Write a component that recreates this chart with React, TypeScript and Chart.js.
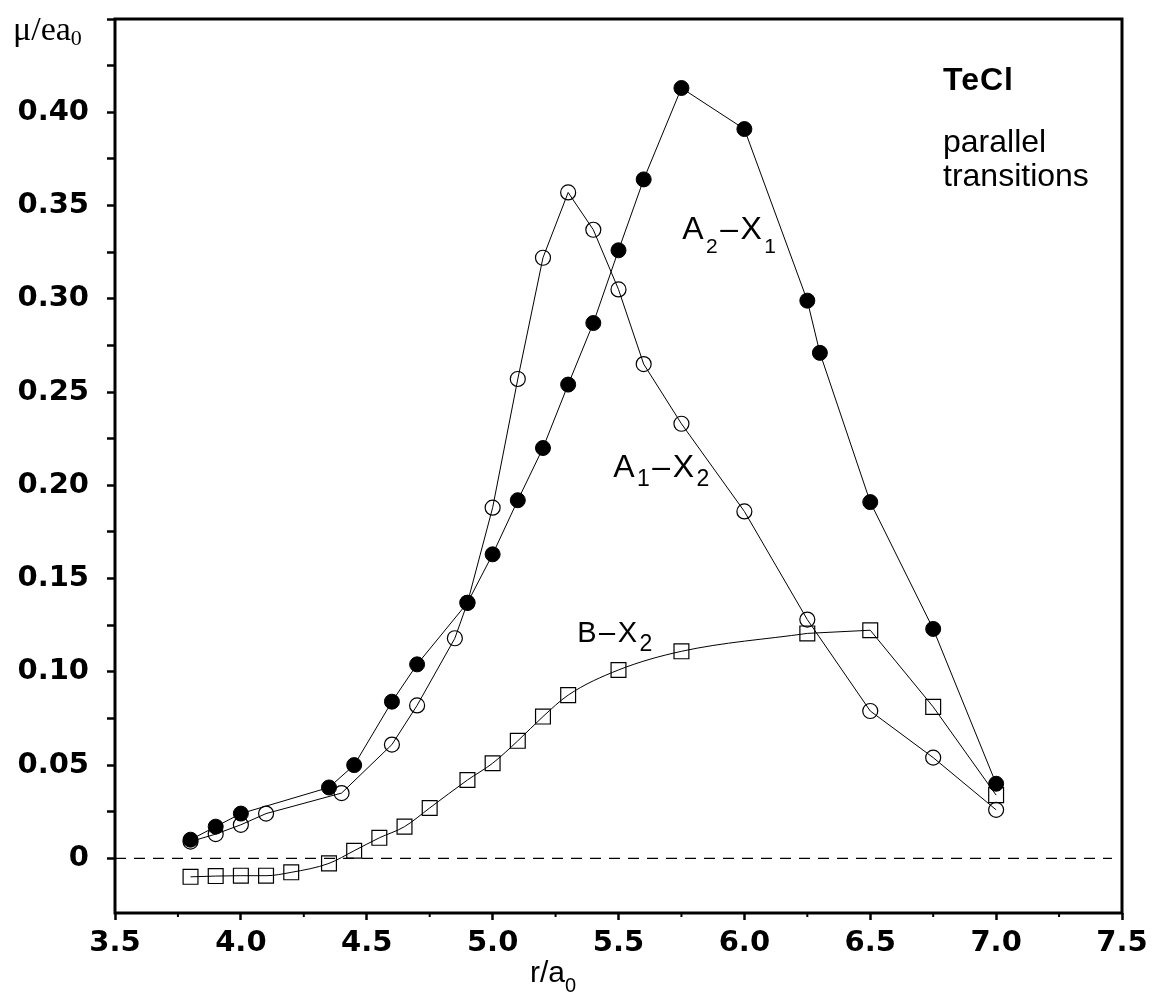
import React, { useEffect, useRef } from 'react';
import { Chart, registerables } from 'chart.js';

Chart.register(...registerables);

// A2–X1 (filled circles)
const filledX = [3.8, 3.9, 4.0, 4.35, 4.45, 4.6, 4.7, 4.9, 5.0, 5.1, 5.2, 5.3, 5.4, 5.5, 5.6, 5.75, 6.0, 6.25, 6.3, 6.5, 6.75, 7.0];
const filledY = [0.010, 0.017, 0.024, 0.038, 0.050, 0.084, 0.104, 0.137, 0.163, 0.192, 0.220, 0.254, 0.287, 0.326, 0.364, 0.413, 0.391, 0.299, 0.271, 0.191, 0.123, 0.040];

// A1–X2 (open circles)
const openX = [3.8, 3.9, 4.0, 4.1, 4.4, 4.6, 4.7, 4.85, 4.9, 5.0, 5.1, 5.2, 5.3, 5.4, 5.5, 5.6, 5.75, 6.0, 6.25, 6.5, 6.75, 7.0];
const openY = [0.009, 0.013, 0.018, 0.024, 0.035, 0.061, 0.082, 0.118, 0.137, 0.188, 0.257, 0.322, 0.357, 0.337, 0.305, 0.265, 0.233, 0.186, 0.128, 0.079, 0.054, 0.026];

// B–X2 (open squares)
const squareX = [3.8, 3.9, 4.0, 4.1, 4.2, 4.35, 4.45, 4.55, 4.65, 4.75, 4.9, 5.0, 5.1, 5.2, 5.3, 5.5, 5.75, 6.25, 6.5, 6.75, 7.0];
const squareY = [-0.0099, -0.0095, -0.0093, -0.0093, -0.0075, -0.0027, 0.0041, 0.011, 0.017, 0.027, 0.042, 0.051, 0.063, 0.076, 0.0875, 0.101, 0.111, 0.1206, 0.1223, 0.0812, 0.0339];
const squareSmoothEnd = 6.25;

// dashed zero reference line
const zeroLineX = [3.5, 7.46];
const zeroLineY = [0, 0];

const xMajorTicks = [3.5, 4.0, 4.5, 5.0, 5.5, 6.0, 6.5, 7.0, 7.5];
const xTickLabels = ['3.5', '4.0', '4.5', '5.0', '5.5', '6.0', '6.5', '7.0', '7.5'];
const xMinorTicks = [3.75, 4.25, 4.75, 5.25, 5.75, 6.25, 6.75, 7.25];

const yTickValues = [0, 0.025, 0.05, 0.075, 0.1, 0.125, 0.15, 0.175, 0.2, 0.225, 0.25, 0.275, 0.3, 0.325, 0.35, 0.375, 0.4, 0.425, 0.45];
const yTickLabels = ['0', '', '0.05', '', '0.10', '', '0.15', '', '0.20', '', '0.25', '', '0.30', '', '0.35', '', '0.40', '', ''];

const X_MIN = 3.5;
const X_MAX = 7.5;
const Y_MIN = -0.0293;
const Y_MAX = 0.45;

type Part = [string, boolean];
interface Annot {
  parts: Part[];
  x: number;
  y: number;
  size: number;
  subSize: number;
  subDy: number;
  spacing: number;
  bold?: boolean;
}

const annotations: Annot[] = [
  { parts: [['A', false], ['2', true], ['–', false], ['X', false], ['1', true]], x: 5.753, y: 0.332, size: 32, subSize: 21, subDy: 14, spacing: 2.5 },
  { parts: [['A', false], ['1', true], ['–', false], ['X', false], ['2', true]], x: 5.479, y: 0.2043, size: 32, subSize: 23, subDy: 9, spacing: 2.5 },
  { parts: [['B', false], ['–', false], ['X', false], ['2', true]], x: 5.336, y: 0.1159, size: 29, subSize: 23, subDy: 9, spacing: 2.5 },
  { parts: [['TeCl', false]], x: 6.789, y: 0.4117, size: 32, subSize: 20, subDy: 0, spacing: 1, bold: true },
  { parts: [['parallel', false]], x: 6.789, y: 0.3785, size: 32, subSize: 20, subDy: 0, spacing: 0 },
  { parts: [['transitions', false]], x: 6.789, y: 0.3603, size: 32, subSize: 20, subDy: 0, spacing: 0 },
];

const SANS = '"Liberation Sans", Arial, Helvetica, sans-serif';
const TICK_SANS = '"DejaVu Sans", "Liberation Sans", sans-serif';
const SERIF = '"Liberation Serif", "Times New Roman", serif';

function toPoints(xs: number[], ys: number[]) {
  return xs.map((x, i) => ({ x, y: ys[i] }));
}

function drawRich(
  ctx: CanvasRenderingContext2D,
  parts: Part[],
  x: number,
  y: number,
  family: string,
  size: number,
  subSize: number,
  subDy: number,
  spacing: number,
  bold: boolean
) {
  let cx = x;
  (ctx as any).letterSpacing = spacing + 'px';
  for (const [t, sub] of parts) {
    ctx.font = `${bold ? 'bold ' : ''}${sub ? subSize : size}px ${family}`;
    ctx.fillText(t, cx, sub ? y + subDy : y);
    cx += ctx.measureText(t).width;
  }
  (ctx as any).letterSpacing = '0px';
}

const framePlugin = {
  id: 'frame',
  beforeDatasetsDraw(chart: any) {
    const ctx: CanvasRenderingContext2D = chart.ctx;
    const a = chart.chartArea;
    const xs = chart.scales.x;
    ctx.save();
    ctx.strokeStyle = '#000';
    ctx.lineWidth = 3;
    ctx.strokeRect(a.left, a.top, a.right - a.left, a.bottom - a.top);
    ctx.lineWidth = 2;
    for (const v of xMinorTicks) {
      const px = xs.getPixelForValue(v);
      ctx.beginPath();
      ctx.moveTo(px, a.bottom);
      ctx.lineTo(px, a.bottom + 4);
      ctx.stroke();
    }
    ctx.restore();
  },
  afterDraw(chart: any) {
    const ctx: CanvasRenderingContext2D = chart.ctx;
    const xs = chart.scales.x;
    const ys = chart.scales.y;
    ctx.save();
    ctx.fillStyle = '#000';
    ctx.textAlign = 'left';
    ctx.textBaseline = 'alphabetic';
    for (const an of annotations) {
      drawRich(ctx, an.parts, xs.getPixelForValue(an.x), ys.getPixelForValue(an.y), SANS, an.size, an.subSize, an.subDy, an.spacing, !!an.bold);
    }
    // axis titles
    drawRich(ctx, [['μ/ea', false], ['0', true]], 13, 40, SERIF, 34, 22, 5, 0, false);
    drawRich(ctx, [['r/a', false], ['0', true]], 530, 982, SANS, 30, 20, 10, 0, false);
    ctx.restore();
  },
};

export default function App() {
  const ref = useRef<HTMLCanvasElement | null>(null);

  useEffect(() => {
    if (!ref.current) return;
    const splitIdx = squareX.indexOf(squareSmoothEnd);
    const sqPts = toPoints(squareX, squareY);
    const tickFont = { family: TICK_SANS, size: 29, weight: 'bold' as const, lineHeight: 1.2 };

    const chart = new Chart(ref.current, {
      type: 'line',
      data: {
        datasets: [
          {
            label: 'zero',
            data: toPoints(zeroLineX, zeroLineY),
            borderColor: '#000',
            borderWidth: 1.2,
            borderDash: [11, 8],
            pointRadius: 0,
            order: 10,
          },
          {
            label: 'B–X2 smooth',
            data: sqPts.slice(0, splitIdx + 1),
            borderColor: '#000',
            borderWidth: 1,
            cubicInterpolationMode: 'monotone',
            pointStyle: 'rect',
            pointRadius: 10.5,
            pointBorderWidth: 1.2,
            pointBorderColor: '#000',
            pointBackgroundColor: 'rgba(0,0,0,0)',
            order: 1,
          },
          {
            label: 'B–X2',
            data: sqPts.slice(splitIdx),
            borderColor: '#000',
            borderWidth: 1,
            tension: 0,
            pointStyle: 'rect',
            pointRadius: (c: any) => (c.dataIndex === 0 ? 0 : 10.5),
            pointBorderWidth: 1.2,
            pointBorderColor: '#000',
            pointBackgroundColor: 'rgba(0,0,0,0)',
            order: 1,
          },
          {
            label: 'A1–X2',
            data: toPoints(openX, openY),
            borderColor: '#000',
            borderWidth: 1,
            tension: 0,
            pointStyle: 'circle',
            pointRadius: 7.5,
            pointBorderWidth: 1.2,
            pointBorderColor: '#000',
            pointBackgroundColor: 'rgba(0,0,0,0)',
            order: 3,
          },
          {
            label: 'A2–X1',
            data: toPoints(filledX, filledY),
            borderColor: '#000',
            borderWidth: 1,
            tension: 0,
            pointStyle: 'circle',
            pointRadius: 7.5,
            pointBorderWidth: 1,
            pointBorderColor: '#000',
            pointBackgroundColor: '#000',
            order: 2,
          },
        ] as any,
      },
      options: {
        animation: false,
        responsive: false,
        events: [],
        layout: { padding: { left: 0, right: 30, top: 19, bottom: 0 } },
        plugins: {
          legend: { display: false },
          tooltip: { enabled: false },
        },
        scales: {
          x: {
            type: 'linear',
            min: X_MIN,
            max: X_MAX,
            afterBuildTicks: (s: any) => {
              s.ticks = xMajorTicks.map((v) => ({ value: v }));
            },
            afterFit: (s: any) => {
              s.height = 81;
              s.paddingLeft = 0;
              s.paddingRight = 0;
            },
            ticks: {
              callback: (_v: any, i: number) => xTickLabels[i],
              font: tickFont,
              color: '#000',
              padding: 6,
              maxRotation: 0,
              autoSkip: false,
            },
            grid: {
              drawOnChartArea: false,
              drawTicks: true,
              tickLength: 7,
              tickWidth: 2.5,
              tickColor: '#000',
              color: '#000',
            },
            border: { display: false },
          },
          y: {
            type: 'linear',
            min: Y_MIN,
            max: Y_MAX,
            afterBuildTicks: (s: any) => {
              s.ticks = yTickValues.map((v) => ({ value: v }));
            },
            afterFit: (s: any) => {
              s.width = 115;
              s.paddingTop = 0;
              s.paddingBottom = 0;
            },
            ticks: {
              callback: (_v: any, i: number) => yTickLabels[i],
              font: tickFont,
              color: '#000',
              padding: 18,
              autoSkip: false,
            },
            grid: {
              drawOnChartArea: false,
              drawTicks: true,
              tickLength: 8,
              tickWidth: 2.5,
              tickColor: '#000',
              color: '#000',
            },
            border: { display: false },
          },
        },
      } as any,
      plugins: [framePlugin],
    });
    return () => chart.destroy();
  }, []);

  return (
    <div style={{ position: 'absolute', left: 0, top: 0, width: 1152, height: 994, background: '#fff' }}>
      <canvas ref={ref} width={1152} height={994} style={{ display: 'block' }} />
    </div>
  );
}
